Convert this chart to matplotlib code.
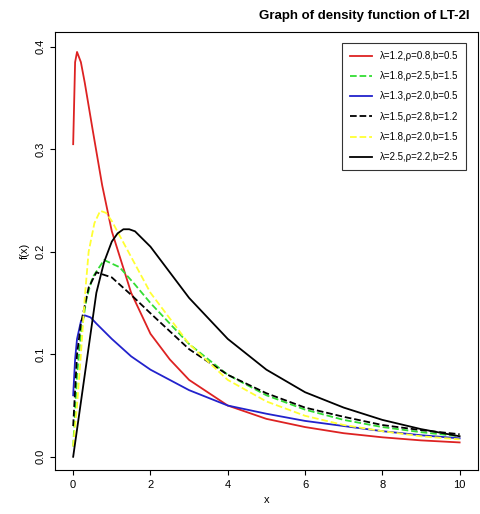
import matplotlib
matplotlib.use("Agg")
import matplotlib.pyplot as plt
plt.rcParams['font.family'] = ['Liberation Sans', 'DejaVu Sans']

labels = ["λ=1.2,ρ=0.8,b=0.5","λ=1.8,ρ=2.5,b=1.5","λ=1.3,ρ=2.0,b=0.5",
          "λ=1.5,ρ=2.8,b=1.2","λ=1.8,ρ=2.0,b=1.5","λ=2.5,ρ=2.2,b=2.5"]
colors = ["#dd2222","#33dd33","#2222cc","black","#ffff33","black"]
styles = ["-","--","-","--","--","-"]

x_red = [0,0.05,0.1,0.2,0.3,0.5,0.75,1,1.5,2,2.5,3,4,5,6,7,8,9,10]
y_red = [0.305,0.385,0.395,0.385,0.365,0.32,0.265,0.22,0.16,0.12,0.095,0.075,0.05,0.037,0.029,0.023,0.019,0.016,0.014]
x_grn = [0,0.1,0.2,0.35,0.5,0.8,1.2,1.6,2,3,4,5,6,7,8,9,10]
y_grn = [0.01,0.08,0.12,0.155,0.175,0.192,0.185,0.168,0.15,0.11,0.08,0.06,0.046,0.036,0.029,0.024,0.02]
x_blu = [0,0.05,0.1,0.2,0.3,0.45,0.6,1,1.5,2,3,4,5,6,7,8,9,10]
y_blu = [0.06,0.095,0.115,0.132,0.138,0.136,0.13,0.115,0.098,0.085,0.065,0.05,0.042,0.035,0.03,0.025,0.021,0.018]
x_bkd = [0,0.1,0.2,0.4,0.6,1,1.5,2,3,4,5,6,7,8,9,10]
y_bkd = [0.03,0.1,0.13,0.165,0.18,0.175,0.158,0.14,0.105,0.08,0.062,0.048,0.039,0.031,0.026,0.022]
x_yel = [0,0.1,0.2,0.3,0.4,0.55,0.7,0.85,1,1.5,2,3,4,5,6,7,8,9,10]
y_yel = [0.01,0.05,0.1,0.155,0.2,0.228,0.24,0.238,0.23,0.195,0.16,0.11,0.075,0.054,0.04,0.031,0.025,0.02,0.017]
x_bks = [0,0.15,0.3,0.45,0.6,0.8,1,1.15,1.3,1.45,1.6,2,2.5,3,4,5,6,7,8,9,10]
y_bks = [0.0,0.04,0.08,0.12,0.16,0.19,0.21,0.218,0.222,0.222,0.22,0.205,0.18,0.155,0.115,0.085,0.063,0.048,0.036,0.027,0.02]
series = [(x_red,y_red),(x_grn,y_grn),(x_blu,y_blu),(x_bkd,y_bkd),(x_yel,y_yel),(x_bks,y_bks)]

fig = plt.figure(figsize=(4.8,5.14), dpi=100)
ax = fig.add_axes([0.115,0.086,0.88,0.852])
for (xs,ys),c,s,l in zip(series,colors,styles,labels):
    ax.plot(xs,ys,color=c,ls=s,lw=1.3,label=l)
ax.set_xlim(-0.465,10.465)
ax.set_ylim(-0.0127,0.4146)
ax.set_xticks([0,2,4,6,8,10])
ax.set_yticks([0.0,0.1,0.2,0.3,0.4])
ax.set_yticklabels(["0.0","0.1","0.2","0.3","0.4"], rotation=90, va="center")
ax.tick_params(labelsize=8)
ax.set_xlabel("x", fontsize=8)
ax.set_ylabel("f(x)", fontsize=8)
leg = ax.legend(loc="upper right", fontsize=7, fancybox=False, edgecolor="black",
                labelspacing=1.05, handlelength=2.3, borderpad=0.8, bbox_to_anchor=(0.985,0.985))
leg.get_frame().set_linewidth(0.8)
fig.text(0.54, 0.968, "Graph of density function of LT-2I", fontsize=9.5, fontweight="bold", ha="left", va="center")
fig.savefig("out.png", dpi=100)
